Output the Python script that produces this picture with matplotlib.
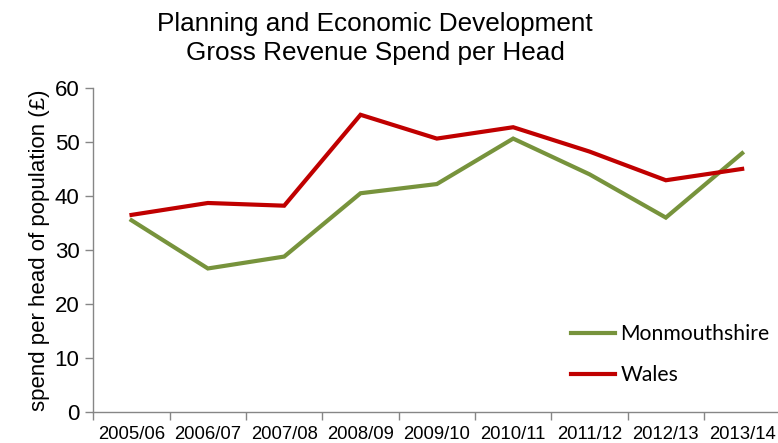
import matplotlib
matplotlib.use("Agg")
import matplotlib.pyplot as plt
import numpy as np

# chart data
years = ["2005/06", "2006/07", "2007/08", "2008/09", "2009/10",
         "2010/11", "2011/12", "2012/13", "2013/14"]
monmouthshire = [35.5, 26.6, 28.8, 40.5, 42.2, 50.6, 44.0, 36.0, 47.9]
wales = [36.5, 38.7, 38.2, 55.0, 50.6, 52.7, 48.2, 42.9, 45.0]

plt.rcParams['font.family'] = ['Liberation Sans', 'DejaVu Sans']

fig = plt.figure(figsize=(7.78, 4.43), dpi=100, facecolor='white')
ax = fig.add_axes([0.12, 0.069, 0.883, 0.733])

x = np.arange(len(years)) + 0.5
ax.plot(x, monmouthshire, color='#77933C', lw=3, label='Monmouthshire',
        solid_joinstyle='miter')
ax.plot(x, wales, color='#C00000', lw=3, label='Wales',
        solid_joinstyle='miter')

ax.set_xlim(0, len(years))
ax.set_ylim(0, 60)
ax.set_yticks(np.arange(0, 61, 10))

# boundary ticks between categories, labels at the centres
ax.set_xticks(np.arange(0, len(years)))
ax.set_xticklabels([])
ax.set_xticks(x, minor=True)
ax.set_xticklabels(years, minor=True, fontsize=13.3)
ax.tick_params(axis='x', which='major', length=6, color='#868686', width=1)
ax.tick_params(axis='x', which='minor', length=0, pad=10)
ax.tick_params(axis='y', length=6, color='#868686', width=1, labelsize=16, pad=4)

for s in ['top', 'right']:
    ax.spines[s].set_visible(False)
for s in ['left', 'bottom']:
    ax.spines[s].set_color('#868686')
    ax.spines[s].set_linewidth(1)

ax.set_ylabel("spend per head of population (£)", fontsize=16, labelpad=3)

fig.text(0.482, 0.913, "Planning and Economic Development\nGross Revenue Spend per Head",
         ha='center', va='center', fontsize=18.8, linespacing=1.25)

leg = ax.legend(loc='lower right', bbox_to_anchor=(1.012, 0.025), frameon=False,
                prop={'family': 'Lato', 'size': 15.2}, handlelength=2.1,
                handletextpad=0.25, labelspacing=1.0)

fig.savefig("out.png", dpi=100)
